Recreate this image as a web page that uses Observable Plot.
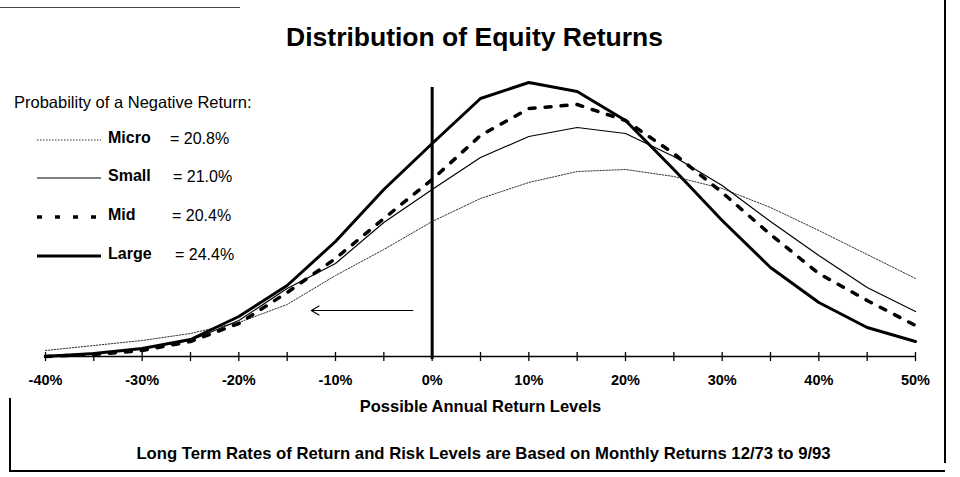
<!DOCTYPE html>
<html><head><meta charset="utf-8">
<script src="https://cdn.jsdelivr.net/npm/d3@7"></script>
<script src="https://cdn.jsdelivr.net/npm/@observablehq/plot@0.6"></script>
<style>
body{margin:0;background:#fff;font-family:"Liberation Sans",Arial,Helvetica,sans-serif;color:#000}
#wrap{position:relative;width:960px;height:477px;overflow:hidden;background:#fff}
#chart{position:absolute;left:0;top:0}
.ov{position:absolute;white-space:nowrap;line-height:1}
.bl{position:absolute;background:#000}
</style></head>
<body>
<div id="wrap">
  <div id="chart"></div>
  <div id="legend"></div>
  <div class="bl" style="left:0;top:7px;width:240px;height:1px;background:#444"></div>
  <div class="bl" style="left:944px;top:0;width:2px;height:463px"></div>
  <div class="bl" style="left:9px;top:398px;width:1.5px;height:73px"></div>
  <div class="bl" style="left:9px;top:470px;width:936px;height:1.5px"></div>
</div>
<script>
// ---- data ----
const returnLevels = [-40,-35,-30,-25,-20,-15,-10,-5,0,5,10,15,20,25,30,35,40,45,50];
const labelTicks = [-40,-30,-20,-10,0,10,20,30,40,50];
const micro = [6,11,16,23,34,52,81,107,135,158,174,185,187,180,168,149,126,102,78];
const small = [1,3,8,16,36,68,93,134,167,199,220,229,223,200,171,135,101,69,45];
const mid   = [0,2,6,15,33,64,98,138,177,221,248,252,236,203,164,122,83,56,31];
const large = [0,3,8,17,40,71,115,167,213,258,274,265,236,187,136,89,54,29,15];
const seriesNames = ["Micro","Small","Mid","Large"];
const negProb = ["20.8%","21.0%","20.4%","24.4%"];
const titleText = "Distribution of Equity Returns";
const legendTitle = "Probability of a Negative Return:";
const xAxisTitle = "Possible Annual Return Levels";
const footerText = "Long Term Rates of Return and Risk Levels are Based on Monthly Returns 12/73 to 9/93";

const styles = {
  Micro: {stroke:"#333", strokeWidth:1, strokeDasharray:"1.5,1.5"},
  Small: {stroke:"#000", strokeWidth:1.2},
  Mid:   {stroke:"#000", strokeWidth:3.5, strokeDasharray:"6,10"},
  Large: {stroke:"#000", strokeWidth:3}
};
const seriesVals = {Micro: micro, Small: small, Mid: mid, Large: large};
const table = seriesNames.flatMap(s => returnLevels.map((r,i) => ({series:s, x:r, y:seriesVals[s][i]})));

const font = '"Liberation Sans",Arial,sans-serif';
const plot = Plot.plot({
  width: 960, height: 477,
  marginLeft: 45, marginRight: 45, marginTop: 66, marginBottom: 121,
  style: {fontFamily: font, background: "transparent", color: "#000"},
  x: {domain: [-40, 50]},
  y: {domain: [0, 290], axis: null},
  marks: [
    Plot.ruleY([0], {stroke:"#000", strokeWidth:1.5}),
    Plot.ruleX(returnLevels, {x: d=>d, y1: -5, y2: 4, stroke:"#000", strokeWidth:1.3}),
    Plot.axisX({ticks: labelTicks, tickSize: 0, tickPadding: 18, tickFormat: d => d + "%",
                fontWeight: "bold", fontSize: 14.5, label: null}),
    Plot.text([titleText], {frameAnchor: "top", dy: -39, dx: -6, fontSize: 26.5, fontWeight: "bold", text: d=>d}),
    Plot.text([xAxisTitle], {frameAnchor: "bottom", dy: 55, dx: 0, fontSize: 16.5, fontWeight: "bold", text: d=>d}),
    Plot.text([footerText], {frameAnchor: "bottom", dy: 102, dx: 3, fontSize: 16.7, fontWeight: "bold", text: d=>d}),
    ...seriesNames.map(s => Plot.line(table.filter(d => d.series === s), {x:"x", y:"y", ...styles[s], strokeLinejoin:"round"})),
    Plot.ruleX([0], {y1: -3, y2: 269, stroke:"#000", strokeWidth:3}),
    Plot.arrow([{x1:-2, x2:-12.5, y:46}], {x1:"x1", x2:"x2", y1:"y", y2:"y", stroke:"#000", strokeWidth:1.1, headLength:12})
  ]
});
document.getElementById("chart").appendChild(plot);

// legend overlay
const leg = document.getElementById("legend");
let html = `<div class="ov" style="left:14px;top:94px;font-size:16.5px">${legendTitle}</div>`;
const rowY = [140, 178, 217, 256];
const eqX = [170, 173, 172, 175];
seriesNames.forEach((s,i) => {
  const st = styles[s];
  html += `<svg style="position:absolute;left:35px;top:${rowY[i]-5}px" width="70" height="10"><line x1="2" x2="66" y1="5" y2="5" stroke="${st.stroke}" stroke-width="${st.strokeWidth}" ${st.strokeDasharray ? `stroke-dasharray="${s==='Mid'?'5,13':st.strokeDasharray}"` : ""}/></svg>`;
  html += `<div class="ov" style="left:108px;top:${rowY[i]-10}px;font-size:16px;font-weight:bold">${s}</div>`;
  html += `<div class="ov" style="left:${eqX[i]}px;top:${rowY[i]-9}px;font-size:16px">= ${negProb[i]}</div>`;
});
leg.innerHTML = html;
</script>
</body></html>
